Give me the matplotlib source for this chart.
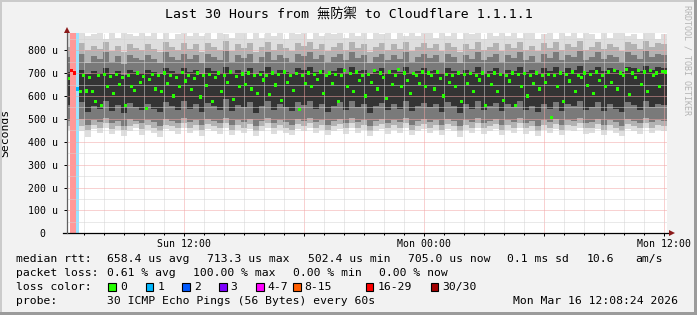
import matplotlib
matplotlib.use("Agg")
import matplotlib.pyplot as plt
import matplotlib.dates as mdates
from matplotlib.patches import Rectangle
from matplotlib.ticker import MultipleLocator, FuncFormatter
from matplotlib.colors import to_rgb
import pandas as pd

# time span of the graph (30 hours)
start = pd.Timestamp("2026-03-15 06:10")
end = pd.Timestamp("2026-03-16 12:10")

# smoke: ping percentiles in microseconds, one value every 18 minutes
smoke_hi = [880, 850, 900, 860, 870, 910, 850, 880, 855, 940, 870, 860, 900, 860, 880, 850, 920, 850, 870, 890,
            860, 900, 860, 880, 850, 910, 870, 855, 900, 880, 850, 920, 855, 880, 860, 900, 850, 890, 870, 910,
            850, 880, 860, 900, 870, 930, 855, 880, 860, 900, 850, 890, 870, 920, 850, 880, 860, 900, 860, 880,
            900, 855, 880, 860, 910, 850, 890, 870, 900, 850, 880, 860, 920, 860, 890, 855, 880, 900, 850, 870,
            890, 850, 900, 860, 880, 855, 910, 870, 850, 890, 855, 880, 900, 860, 870, 850, 900, 880, 850, 870]
smoke_p95 = [815, 795, 830, 800, 820, 805, 835, 795, 820, 790, 825, 810, 800, 825, 805, 790, 835, 815, 800, 830,
             805, 825, 790, 830, 815, 800, 840, 795, 825, 810, 830, 790, 815, 835, 800, 825, 810, 795, 830, 820,
             835, 805, 825, 795, 815, 830, 800, 835, 810, 825, 790, 815, 830, 800, 825, 805, 835, 795, 815, 830,
             810, 825, 795, 830, 815, 790, 825, 805, 835, 800, 815, 830, 795, 825, 810, 835, 800, 820, 795, 830,
             810, 835, 800, 825, 815, 840, 800, 815, 835, 805, 825, 815, 795, 835, 825, 805, 840, 815, 830, 825]
smoke_p90 = [770, 750, 785, 745, 775, 760, 790, 750, 775, 740, 780, 765, 755, 780, 760, 745, 790, 770, 755, 785,
             760, 780, 745, 785, 770, 755, 795, 750, 780, 765, 785, 745, 770, 790, 755, 780, 765, 750, 785, 775,
             790, 760, 780, 750, 770, 785, 755, 790, 765, 780, 745, 770, 785, 755, 780, 760, 790, 750, 770, 785,
             765, 780, 750, 785, 770, 745, 780, 760, 790, 755, 770, 785, 750, 780, 765, 790, 755, 775, 750, 785,
             765, 790, 755, 780, 770, 795, 755, 770, 790, 760, 780, 770, 750, 790, 780, 760, 795, 770, 785, 780]
smoke_p75 = [705, 700, 715, 695, 710, 700, 720, 695, 710, 690, 715, 705, 700, 715, 705, 695, 720, 710, 700, 720,
             705, 715, 695, 720, 710, 700, 725, 700, 715, 705, 720, 695, 710, 725, 700, 715, 705, 700, 720, 715,
             725, 705, 715, 700, 710, 720, 700, 725, 710, 715, 695, 710, 720, 700, 715, 705, 725, 700, 710, 720,
             710, 715, 700, 720, 710, 695, 715, 705, 725, 700, 710, 720, 700, 715, 710, 725, 705, 715, 700, 720,
             710, 725, 705, 720, 715, 730, 705, 715, 725, 710, 720, 715, 705, 725, 720, 710, 730, 715, 725, 720]
smoke_p25 = [560, 540, 575, 530, 555, 545, 580, 535, 560, 525, 570, 550, 540, 565, 545, 530, 575, 555, 540, 580,
             545, 565, 530, 570, 555, 540, 585, 535, 560, 550, 575, 525, 555, 580, 540, 565, 550, 535, 575, 560,
             580, 545, 565, 530, 555, 575, 540, 580, 550, 565, 525, 555, 570, 540, 565, 545, 580, 535, 555, 570,
             550, 565, 530, 575, 555, 525, 565, 545, 580, 540, 555, 570, 535, 565, 550, 580, 540, 555, 530, 565,
             545, 575, 535, 565, 555, 580, 540, 550, 575, 535, 565, 545, 530, 575, 560, 540, 580, 550, 565, 560]
smoke_p10 = [490, 480, 500, 475, 495, 485, 505, 480, 490, 470, 500, 490, 480, 495, 485, 470, 500, 490, 480, 505,
             485, 495, 475, 500, 490, 480, 505, 475, 495, 485, 500, 470, 490, 505, 480, 495, 485, 475, 500, 490,
             505, 485, 495, 475, 490, 500, 480, 505, 485, 495, 470, 490, 500, 480, 495, 485, 505, 475, 490, 500,
             485, 495, 475, 500, 490, 470, 495, 485, 505, 480, 490, 500, 475, 495, 485, 505, 480, 490, 470, 495,
             485, 500, 475, 495, 490, 505, 480, 485, 500, 475, 495, 485, 470, 500, 490, 480, 505, 485, 495, 490]
smoke_p05 = [470, 455, 470, 450, 475, 460, 480, 455, 470, 450, 470, 478, 455, 472, 462, 448, 475, 468, 458, 480,
             462, 472, 450, 476, 468, 458, 480, 452, 472, 462, 476, 448, 468, 480, 458, 472, 462, 452, 476, 468,
             480, 462, 472, 452, 468, 476, 458, 480, 462, 472, 448, 468, 476, 458, 472, 462, 480, 452, 468, 476,
             462, 472, 452, 476, 468, 445, 472, 462, 480, 458, 468, 476, 452, 472, 462, 480, 458, 468, 448, 472,
             462, 476, 452, 472, 468, 480, 458, 462, 476, 452, 472, 462, 448, 476, 468, 458, 480, 462, 472, 468]
smoke_lo = [450, 430, 445, 420, 455, 440, 460, 435, 450, 425, 445, 460, 430, 450, 440, 420, 455, 445, 435, 460,
            440, 450, 425, 455, 445, 435, 460, 430, 450, 440, 455, 425, 445, 460, 435, 450, 440, 430, 455, 445,
            460, 440, 450, 430, 445, 455, 435, 460, 440, 450, 425, 445, 455, 435, 450, 440, 460, 430, 445, 455,
            440, 450, 430, 455, 445, 420, 450, 440, 460, 435, 445, 455, 430, 450, 440, 460, 435, 445, 425, 450,
            440, 455, 430, 450, 445, 460, 435, 440, 455, 430, 450, 440, 425, 455, 445, 435, 460, 440, 450, 445]

# median rtt in microseconds, one value every 9 minutes
median = [675, 712, 700, 630, 620, 690, 622, 680, 618, 575, 688, 560, 692, 640, 685, 612, 694, 650, 680, 560,
          690, 640, 625, 700, 660, 685, 545, 672, 695, 630, 688, 618, 700, 655, 690, 600, 682, 640, 702, 665,
          690, 628, 675, 700, 595, 688, 645, 692, 575, 680, 700, 620, 690, 660, 705, 585, 685, 640, 696, 650,
          700, 630, 688, 612, 695, 670, 690, 605, 700, 648, 692, 580, 705, 660, 688, 625, 698, 540, 690, 655,
          700, 640, 692, 672, 705, 610, 688, 700, 655, 695, 575, 690, 710, 640, 698, 620, 705, 668, 690, 600,
          695, 660, 710, 630, 700, 682, 590, 705, 650, 690, 715, 640, 700, 668, 610, 698, 688, 655, 705, 640,
          700, 690, 630, 705, 675, 600, 695, 660, 688, 640, 700, 575, 692, 655, 698, 620, 688, 670, 700, 560,
          690, 650, 700, 620, 695, 580, 688, 665, 700, 560, 692, 640, 698, 600, 688, 655, 700, 630, 690, 660,
          695, 505, 688, 640, 700, 575, 692, 665, 705, 620, 690, 680, 700, 645, 695, 610, 705, 668, 690, 640,
          705, 660, 712, 630, 700, 690, 715, 605, 700, 680, 710, 650, 705, 620, 712, 690, 700, 640, 708, 705]
# lost pings (of 30) for each median step
loss = [0, 20, 20, 1] + [0] * 196

loss_labels = ["0", "1", "2", "3", "4-7", "8-15", "16-29", "30/30"]
loss_colors = ["#26ff00", "#00b8ff", "#0059ff", "#7e00ff", "#ff00ff", "#ff5e00", "#ff0000", "#a10000"]
loss_limits = [0, 1, 2, 3, 7, 15, 29, 30]

title = "Last 30 Hours from 無防禦 to Cloudflare 1.1.1.1"
stats_rtt = ["median rtt:", "658.4 us avg", "713.3 us max", "502.4 us min", "705.0 us now",
             "0.1 ms sd", "10.6", "am/s"]
stats_loss = ["packet loss:", "0.61 % avg", "100.00 % max", "0.00 % min", "0.00 % now"]
probe = ["probe:", "30 ICMP Echo Pings (56 Bytes) every 60s", "Mon Mar 16 12:08:24 2026"]

W, H = 697, 315
MONO = ["DejaVu Sans Mono", "Noto Sans CJK TC"]
plt.rcParams["font.family"] = MONO

fig = plt.figure(figsize=(W / 100, H / 100), dpi=100, facecolor="#f2f2f2")


def px(x, y):
    return x / W, 1 - y / H


# rrdtool style frame
fig.patches.append(Rectangle((0, 1 - 2 / H), 1, 2 / H, transform=fig.transFigure, color="#cbcbcb", lw=0))
fig.patches.append(Rectangle((0, 0), 2 / W, 1, transform=fig.transFigure, color="#cbcbcb", lw=0))
fig.patches.append(Rectangle((0, 0), 1, 3 / H, transform=fig.transFigure, color="#9b9b9b", lw=0))
fig.patches.append(Rectangle((1 - 3 / W, 0), 3 / W, 1, transform=fig.transFigure, color="#9b9b9b", lw=0))

x0, y0 = px(67, 233.3)
ax = fig.add_axes([x0, y0, 600 / W, 200.3 / H])
ax.set_facecolor("white")

t_smoke = mdates.date2num(pd.date_range(start, periods=len(smoke_hi), freq="18min").to_pydatetime())
t_med = mdates.date2num(pd.date_range(start, periods=len(median), freq="9min").to_pydatetime())
w_smoke = 18 / 1440
w_med = 9 / 1440

# smoke layers, outer to inner
layers = [(smoke_lo, smoke_hi, "#dedede"), (smoke_p05, smoke_p95, "#b2b2b2"),
          (smoke_p10, smoke_p90, "#7a7a7a"), (smoke_p25, smoke_p75, "#343434")]
for lo, hi, c in layers:
    ax.bar(t_smoke, [h - l for l, h in zip(lo, hi)], bottom=lo, width=w_smoke, align="edge",
           color=c, linewidth=0, zorder=1)


def loss_color(n):
    for lim, c in zip(loss_limits, loss_colors):
        if n <= lim:
            return c
    return loss_colors[-1]


# loss bands and median dashes
for t, m, n in zip(t_med, median, loss):
    c = loss_color(n)
    if n > 0:
        r, g, b = to_rgb(c)
        light = (1 - 0.4 * (1 - r), 1 - 0.4 * (1 - g), 1 - 0.4 * (1 - b))
        ax.axvspan(t, t + w_med, color=light, lw=0, zorder=2)
    ax.bar(t + w_med * 0.15, 14, bottom=m - 7, width=w_med * 0.7, align="edge",
           color=c, linewidth=0, zorder=4)

ax.set_xlim(mdates.date2num(start.to_pydatetime()), mdates.date2num(end.to_pydatetime()))
ax.set_ylim(0, 875)

ax.yaxis.set_major_locator(MultipleLocator(100))
ax.yaxis.set_minor_locator(MultipleLocator(50))
ax.yaxis.set_major_formatter(FuncFormatter(lambda v, p: "0  " if v == 0 else f"{v:.0f} u"))
ax.xaxis.set_major_locator(mdates.HourLocator(byhour=[0, 6, 12, 18]))
ax.xaxis.set_minor_locator(mdates.HourLocator(interval=1))
ax.xaxis.set_major_formatter(FuncFormatter(
    lambda v, p: mdates.num2date(v).strftime("%a %H:%M") if mdates.num2date(v).hour in (0, 12) else ""))

ax.set_axisbelow(False)
ax.grid(which="major", color="#f2a4a4", linewidth=0.72, dashes=(1, 1))
ax.grid(which="minor", color="#d4d4d4", linewidth=0.72, dashes=(1, 1))

ax.tick_params(axis="both", which="both", labelsize=7.1, colors="black", width=0.72)
ax.tick_params(axis="y", which="major", length=2, pad=4.3)
ax.tick_params(axis="y", which="minor", length=0)
ax.tick_params(axis="x", which="major", length=2, pad=2)
ax.tick_params(axis="x", which="minor", length=1.2)

for s in ax.spines.values():
    s.set_visible(False)
# axes with arrows
ax.plot([-0.007, 1.004], [0, 0], color="black", lw=0.9, transform=ax.transAxes, clip_on=False, zorder=5)
ax.plot([0, 0], [0, 1.0], color="#606060", lw=0.9, transform=ax.transAxes, clip_on=False, zorder=5)
ax.plot([1.0075], [0], marker=">", ms=4.5, color="#8b1a1a", mew=0,
        transform=ax.transAxes, clip_on=False, zorder=6)
ax.plot([0], [1.015], marker="^", ms=4.5, color="#8b1a1a", mew=0,
        transform=ax.transAxes, clip_on=False, zorder=6)

ax.set_ylabel("Seconds", fontsize=8.2, labelpad=6)
ax.yaxis.set_label_coords(-(67 - 10) / 600, (233.3 - 132.5) / 200.3)

fig.text(*px(348.5, 15), title, ha="center", va="center", fontsize=9.5, family=MONO)
fig.text(*px(687, 5), "RRDTOOL / TOBI OETIKER", rotation=270, ha="center", va="top",
         fontsize=6, color="#b4b4b4")

# legend rows
rtt_x = [16, 107.3, 207.3, 308, 407.7, 507.3, 586.7, 635.3]
for x, s in zip(rtt_x, stats_rtt):
    fig.text(*px(x, 259.3), s, ha="left", va="center", fontsize=8.2)
loss_x = [16, 107.3, 193.3, 293.3, 379.3]
for x, s in zip(loss_x, stats_loss):
    fig.text(*px(x, 273.3), s, ha="left", va="center", fontsize=8.2)

fig.text(*px(16, 287), "loss color:", ha="left", va="center", fontsize=8.2)
box_x = [108.3, 145.7, 182.3, 219, 256, 293, 365.7, 430.7]
for bx, lab, c in zip(box_x, loss_labels, loss_colors):
    bxf, byf = px(bx, 290.8)
    fig.patches.append(Rectangle((bxf, byf), 7.6 / W, 7.6 / H, transform=fig.transFigure,
                                 facecolor=c, edgecolor="black", lw=0.8))
    fig.text(*px(bx + 11.5, 287), lab, ha="left", va="center", fontsize=8.2)

probe_x = [16, 107.3, 512.7]
for x, s in zip(probe_x, probe):
    fig.text(*px(x, 301), s, ha="left", va="center", fontsize=8.2)

fig.savefig("out.png", dpi=100, facecolor=fig.get_facecolor())
